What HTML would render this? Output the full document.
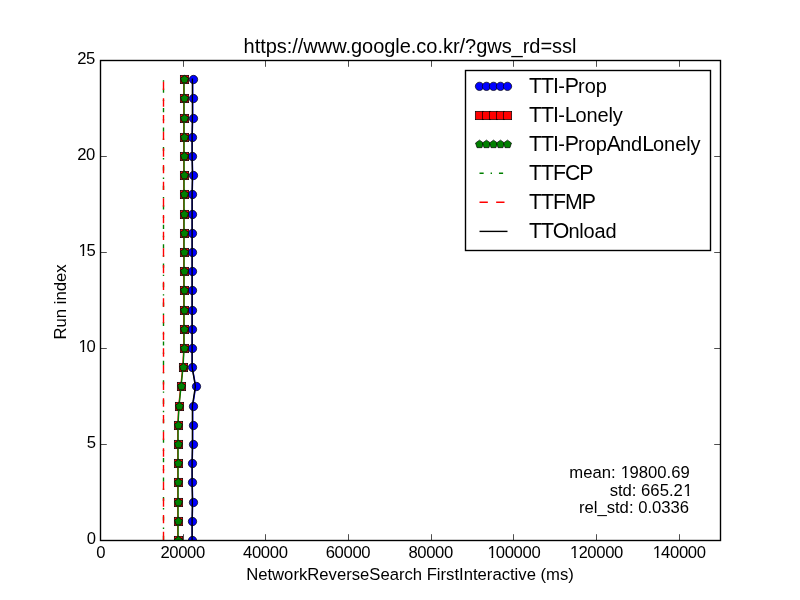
<!DOCTYPE html>
<html><head><meta charset="utf-8"><title>chart</title>
<style>html,body{margin:0;padding:0;background:#fff;overflow:hidden}svg{display:block}text{fill:#000}</style></head>
<body>
<svg width="800" height="600" viewBox="0 0 800 600">
<rect width="800" height="600" fill="#ffffff"/>
<defs><clipPath id="ax"><rect x="100" y="60" width="620" height="480"/></clipPath></defs>
<g clip-path="url(#ax)">
<path d="M192.20 540.00 L192.20 520.80 L192.75 501.60 L192.20 482.40 L192.20 463.20 L192.75 444.00 L192.75 424.80 L192.75 405.60 L195.75 386.40 L192.20 367.20 L192.20 348.00 L192.20 328.80 L192.20 309.60 L192.20 290.40 L192.20 271.20 L192.20 252.00 L192.20 232.80 L192.20 213.60 L192.20 194.40 L192.75 175.20 L192.20 156.00 L192.20 136.80 L192.75 117.60 L192.75 98.40 L192.75 79.20" fill="none" stroke="#0000ff" stroke-width="1.389" stroke-linejoin="round" stroke-linecap="square"/>
<circle cx="192.50" cy="540.50" r="4.167" fill="#0000ff" stroke="#000" stroke-width="0.694"/>
<circle cx="192.50" cy="521.50" r="4.167" fill="#0000ff" stroke="#000" stroke-width="0.694"/>
<circle cx="193.50" cy="502.50" r="4.167" fill="#0000ff" stroke="#000" stroke-width="0.694"/>
<circle cx="192.50" cy="482.50" r="4.167" fill="#0000ff" stroke="#000" stroke-width="0.694"/>
<circle cx="192.50" cy="463.50" r="4.167" fill="#0000ff" stroke="#000" stroke-width="0.694"/>
<circle cx="193.50" cy="444.50" r="4.167" fill="#0000ff" stroke="#000" stroke-width="0.694"/>
<circle cx="193.50" cy="425.50" r="4.167" fill="#0000ff" stroke="#000" stroke-width="0.694"/>
<circle cx="193.50" cy="406.50" r="4.167" fill="#0000ff" stroke="#000" stroke-width="0.694"/>
<circle cx="196.50" cy="386.50" r="4.167" fill="#0000ff" stroke="#000" stroke-width="0.694"/>
<circle cx="192.50" cy="367.50" r="4.167" fill="#0000ff" stroke="#000" stroke-width="0.694"/>
<circle cx="192.50" cy="348.50" r="4.167" fill="#0000ff" stroke="#000" stroke-width="0.694"/>
<circle cx="192.50" cy="329.50" r="4.167" fill="#0000ff" stroke="#000" stroke-width="0.694"/>
<circle cx="192.50" cy="310.50" r="4.167" fill="#0000ff" stroke="#000" stroke-width="0.694"/>
<circle cx="192.50" cy="290.50" r="4.167" fill="#0000ff" stroke="#000" stroke-width="0.694"/>
<circle cx="192.50" cy="271.50" r="4.167" fill="#0000ff" stroke="#000" stroke-width="0.694"/>
<circle cx="192.50" cy="252.50" r="4.167" fill="#0000ff" stroke="#000" stroke-width="0.694"/>
<circle cx="192.50" cy="233.50" r="4.167" fill="#0000ff" stroke="#000" stroke-width="0.694"/>
<circle cx="192.50" cy="214.50" r="4.167" fill="#0000ff" stroke="#000" stroke-width="0.694"/>
<circle cx="192.50" cy="194.50" r="4.167" fill="#0000ff" stroke="#000" stroke-width="0.694"/>
<circle cx="193.50" cy="175.50" r="4.167" fill="#0000ff" stroke="#000" stroke-width="0.694"/>
<circle cx="192.50" cy="156.50" r="4.167" fill="#0000ff" stroke="#000" stroke-width="0.694"/>
<circle cx="192.50" cy="137.50" r="4.167" fill="#0000ff" stroke="#000" stroke-width="0.694"/>
<circle cx="193.50" cy="118.50" r="4.167" fill="#0000ff" stroke="#000" stroke-width="0.694"/>
<circle cx="193.50" cy="98.50" r="4.167" fill="#0000ff" stroke="#000" stroke-width="0.694"/>
<circle cx="193.50" cy="79.50" r="4.167" fill="#0000ff" stroke="#000" stroke-width="0.694"/>
<path d="M177.80 540.00 L177.80 520.80 L177.80 501.60 L177.80 482.40 L177.80 463.20 L177.80 444.00 L177.80 424.80 L178.80 405.60 L180.80 386.40 L182.80 367.20 L183.80 348.00 L183.80 328.80 L183.80 309.60 L183.80 290.40 L183.80 271.20 L183.80 252.00 L183.80 232.80 L183.80 213.60 L183.80 194.40 L183.80 175.20 L183.80 156.00 L183.80 136.80 L183.80 117.60 L183.80 98.40 L183.80 79.20" fill="none" stroke="#ff0000" stroke-width="1.389" stroke-linejoin="round" stroke-linecap="square"/>
<rect x="174.33" y="536.33" width="8.333" height="8.333" fill="#ff0000" stroke="#000" stroke-width="0.694"/>
<rect x="174.33" y="517.33" width="8.333" height="8.333" fill="#ff0000" stroke="#000" stroke-width="0.694"/>
<rect x="174.33" y="498.33" width="8.333" height="8.333" fill="#ff0000" stroke="#000" stroke-width="0.694"/>
<rect x="174.33" y="478.33" width="8.333" height="8.333" fill="#ff0000" stroke="#000" stroke-width="0.694"/>
<rect x="174.33" y="459.33" width="8.333" height="8.333" fill="#ff0000" stroke="#000" stroke-width="0.694"/>
<rect x="174.33" y="440.33" width="8.333" height="8.333" fill="#ff0000" stroke="#000" stroke-width="0.694"/>
<rect x="174.33" y="421.33" width="8.333" height="8.333" fill="#ff0000" stroke="#000" stroke-width="0.694"/>
<rect x="175.33" y="402.33" width="8.333" height="8.333" fill="#ff0000" stroke="#000" stroke-width="0.694"/>
<rect x="177.33" y="382.33" width="8.333" height="8.333" fill="#ff0000" stroke="#000" stroke-width="0.694"/>
<rect x="179.33" y="363.33" width="8.333" height="8.333" fill="#ff0000" stroke="#000" stroke-width="0.694"/>
<rect x="180.33" y="344.33" width="8.333" height="8.333" fill="#ff0000" stroke="#000" stroke-width="0.694"/>
<rect x="180.33" y="325.33" width="8.333" height="8.333" fill="#ff0000" stroke="#000" stroke-width="0.694"/>
<rect x="180.33" y="306.33" width="8.333" height="8.333" fill="#ff0000" stroke="#000" stroke-width="0.694"/>
<rect x="180.33" y="286.33" width="8.333" height="8.333" fill="#ff0000" stroke="#000" stroke-width="0.694"/>
<rect x="180.33" y="267.33" width="8.333" height="8.333" fill="#ff0000" stroke="#000" stroke-width="0.694"/>
<rect x="180.33" y="248.33" width="8.333" height="8.333" fill="#ff0000" stroke="#000" stroke-width="0.694"/>
<rect x="180.33" y="229.33" width="8.333" height="8.333" fill="#ff0000" stroke="#000" stroke-width="0.694"/>
<rect x="180.33" y="210.33" width="8.333" height="8.333" fill="#ff0000" stroke="#000" stroke-width="0.694"/>
<rect x="180.33" y="190.33" width="8.333" height="8.333" fill="#ff0000" stroke="#000" stroke-width="0.694"/>
<rect x="180.33" y="171.33" width="8.333" height="8.333" fill="#ff0000" stroke="#000" stroke-width="0.694"/>
<rect x="180.33" y="152.33" width="8.333" height="8.333" fill="#ff0000" stroke="#000" stroke-width="0.694"/>
<rect x="180.33" y="133.33" width="8.333" height="8.333" fill="#ff0000" stroke="#000" stroke-width="0.694"/>
<rect x="180.33" y="114.33" width="8.333" height="8.333" fill="#ff0000" stroke="#000" stroke-width="0.694"/>
<rect x="180.33" y="94.33" width="8.333" height="8.333" fill="#ff0000" stroke="#000" stroke-width="0.694"/>
<rect x="180.33" y="75.33" width="8.333" height="8.333" fill="#ff0000" stroke="#000" stroke-width="0.694"/>
<path d="M178.05 540.00 L178.05 520.80 L178.05 501.60 L178.05 482.40 L178.05 463.20 L178.05 444.00 L178.05 424.80 L179.05 405.60 L181.05 386.40 L183.05 367.20 L184.05 348.00 L184.05 328.80 L184.05 309.60 L184.05 290.40 L184.05 271.20 L184.05 252.00 L184.05 232.80 L184.05 213.60 L184.05 194.40 L184.05 175.20 L184.05 156.00 L184.05 136.80 L184.05 117.60 L184.05 98.40 L184.05 79.20" fill="none" stroke="#008000" stroke-width="1.389" stroke-linejoin="round" stroke-linecap="square"/>
<polygon points="178.50,536.33 174.54,539.21 176.05,543.87 180.95,543.87 182.46,539.21" fill="#008000" stroke="#000" stroke-width="0.694"/>
<polygon points="178.50,517.33 174.54,520.21 176.05,524.87 180.95,524.87 182.46,520.21" fill="#008000" stroke="#000" stroke-width="0.694"/>
<polygon points="178.50,498.33 174.54,501.21 176.05,505.87 180.95,505.87 182.46,501.21" fill="#008000" stroke="#000" stroke-width="0.694"/>
<polygon points="178.50,478.33 174.54,481.21 176.05,485.87 180.95,485.87 182.46,481.21" fill="#008000" stroke="#000" stroke-width="0.694"/>
<polygon points="178.50,459.33 174.54,462.21 176.05,466.87 180.95,466.87 182.46,462.21" fill="#008000" stroke="#000" stroke-width="0.694"/>
<polygon points="178.50,440.33 174.54,443.21 176.05,447.87 180.95,447.87 182.46,443.21" fill="#008000" stroke="#000" stroke-width="0.694"/>
<polygon points="178.50,421.33 174.54,424.21 176.05,428.87 180.95,428.87 182.46,424.21" fill="#008000" stroke="#000" stroke-width="0.694"/>
<polygon points="179.50,402.33 175.54,405.21 177.05,409.87 181.95,409.87 183.46,405.21" fill="#008000" stroke="#000" stroke-width="0.694"/>
<polygon points="181.50,382.33 177.54,385.21 179.05,389.87 183.95,389.87 185.46,385.21" fill="#008000" stroke="#000" stroke-width="0.694"/>
<polygon points="183.50,363.33 179.54,366.21 181.05,370.87 185.95,370.87 187.46,366.21" fill="#008000" stroke="#000" stroke-width="0.694"/>
<polygon points="184.50,344.33 180.54,347.21 182.05,351.87 186.95,351.87 188.46,347.21" fill="#008000" stroke="#000" stroke-width="0.694"/>
<polygon points="184.50,325.33 180.54,328.21 182.05,332.87 186.95,332.87 188.46,328.21" fill="#008000" stroke="#000" stroke-width="0.694"/>
<polygon points="184.50,306.33 180.54,309.21 182.05,313.87 186.95,313.87 188.46,309.21" fill="#008000" stroke="#000" stroke-width="0.694"/>
<polygon points="184.50,286.33 180.54,289.21 182.05,293.87 186.95,293.87 188.46,289.21" fill="#008000" stroke="#000" stroke-width="0.694"/>
<polygon points="184.50,267.33 180.54,270.21 182.05,274.87 186.95,274.87 188.46,270.21" fill="#008000" stroke="#000" stroke-width="0.694"/>
<polygon points="184.50,248.33 180.54,251.21 182.05,255.87 186.95,255.87 188.46,251.21" fill="#008000" stroke="#000" stroke-width="0.694"/>
<polygon points="184.50,229.33 180.54,232.21 182.05,236.87 186.95,236.87 188.46,232.21" fill="#008000" stroke="#000" stroke-width="0.694"/>
<polygon points="184.50,210.33 180.54,213.21 182.05,217.87 186.95,217.87 188.46,213.21" fill="#008000" stroke="#000" stroke-width="0.694"/>
<polygon points="184.50,190.33 180.54,193.21 182.05,197.87 186.95,197.87 188.46,193.21" fill="#008000" stroke="#000" stroke-width="0.694"/>
<polygon points="184.50,171.33 180.54,174.21 182.05,178.87 186.95,178.87 188.46,174.21" fill="#008000" stroke="#000" stroke-width="0.694"/>
<polygon points="184.50,152.33 180.54,155.21 182.05,159.87 186.95,159.87 188.46,155.21" fill="#008000" stroke="#000" stroke-width="0.694"/>
<polygon points="184.50,133.33 180.54,136.21 182.05,140.87 186.95,140.87 188.46,136.21" fill="#008000" stroke="#000" stroke-width="0.694"/>
<polygon points="184.50,114.33 180.54,117.21 182.05,121.87 186.95,121.87 188.46,117.21" fill="#008000" stroke="#000" stroke-width="0.694"/>
<polygon points="184.50,94.33 180.54,97.21 182.05,101.87 186.95,101.87 188.46,97.21" fill="#008000" stroke="#000" stroke-width="0.694"/>
<polygon points="184.50,75.33 180.54,78.21 182.05,82.87 186.95,82.87 188.46,78.21" fill="#008000" stroke="#000" stroke-width="0.694"/>
<path d="M163.50 540.00 L163.50 79.20" fill="none" stroke="#008000" stroke-width="1.389" stroke-dasharray="4.167 6.944 1.389 6.944"/>
<path d="M163.50 540.00 L163.50 79.20" fill="none" stroke="#ff0000" stroke-width="1.389" stroke-dasharray="8.333 8.333"/>
<path d="M192.10 540.00 L192.10 520.80 L192.40 501.60 L192.10 482.40 L192.10 463.20 L192.40 444.00 L192.40 424.80 L192.40 405.60 L195.40 386.40 L192.10 367.20 L192.10 348.00 L192.10 328.80 L192.10 309.60 L192.10 290.40 L192.10 271.20 L192.10 252.00 L192.10 232.80 L192.10 213.60 L192.10 194.40 L192.40 175.20 L192.10 156.00 L192.10 136.80 L192.40 117.60 L192.40 98.40 L192.40 79.20" fill="none" stroke="#000" stroke-width="1.389" stroke-linejoin="round" stroke-linecap="square"/>
</g>
<path d="M100.50 540.50 V534.20 M100.50 60.50 V66.80 M183.50 540.50 V534.20 M183.50 60.50 V66.80 M265.50 540.50 V534.20 M265.50 60.50 V66.80 M348.50 540.50 V534.20 M348.50 60.50 V66.80 M431.50 540.50 V534.20 M431.50 60.50 V66.80 M513.50 540.50 V534.20 M513.50 60.50 V66.80 M596.50 540.50 V534.20 M596.50 60.50 V66.80 M679.50 540.50 V534.20 M679.50 60.50 V66.80 M100.50 540.50 H106.80 M720.50 540.50 H714.20 M100.50 444.50 H106.80 M720.50 444.50 H714.20 M100.50 348.50 H106.80 M720.50 348.50 H714.20 M100.50 252.50 H106.80 M720.50 252.50 H714.20 M100.50 156.50 H106.80 M720.50 156.50 H714.20 M100.50 60.50 H106.80 M720.50 60.50 H714.20" fill="none" stroke="#000" stroke-width="0.694"/>
<rect x="100.5" y="60.5" width="620" height="480" fill="none" stroke="#000" stroke-width="1.389"/>
<text x="100.70" y="557.76" font-size="16.67" text-anchor="middle" letter-spacing="-0.35" font-family="Liberation Sans, Arial, sans-serif">0</text>
<text x="182.67" y="557.76" font-size="16.67" text-anchor="middle" letter-spacing="-0.35" font-family="Liberation Sans, Arial, sans-serif">20000</text>
<text x="265.33" y="557.76" font-size="16.67" text-anchor="middle" letter-spacing="-0.35" font-family="Liberation Sans, Arial, sans-serif">40000</text>
<text x="348.00" y="557.76" font-size="16.67" text-anchor="middle" letter-spacing="-0.35" font-family="Liberation Sans, Arial, sans-serif">60000</text>
<text x="430.67" y="557.76" font-size="16.67" text-anchor="middle" letter-spacing="-0.35" font-family="Liberation Sans, Arial, sans-serif">80000</text>
<text x="513.33" y="557.76" font-size="16.67" text-anchor="middle" letter-spacing="-0.35" font-family="Liberation Sans, Arial, sans-serif"><tspan dx="0.55">1</tspan><tspan dx="-0.55">00000</tspan></text>
<text x="596.00" y="557.76" font-size="16.67" text-anchor="middle" letter-spacing="-0.35" font-family="Liberation Sans, Arial, sans-serif"><tspan dx="0.55">1</tspan><tspan dx="-0.55">20000</tspan></text>
<text x="678.67" y="557.76" font-size="16.67" text-anchor="middle" letter-spacing="-0.35" font-family="Liberation Sans, Arial, sans-serif"><tspan dx="0.55">1</tspan><tspan dx="-0.55">40000</tspan></text>
<text x="96.14" y="544.00" font-size="16.67" text-anchor="end" letter-spacing="0" font-family="Liberation Sans, Arial, sans-serif">0</text>
<text x="96.14" y="448.00" font-size="16.67" text-anchor="end" letter-spacing="0" font-family="Liberation Sans, Arial, sans-serif">5</text>
<text x="94.64" y="352.00" font-size="16.67" text-anchor="end" letter-spacing="-0.6" font-family="Liberation Sans, Arial, sans-serif"><tspan dx="0.55">1</tspan><tspan dx="-0.55">0</tspan></text>
<text x="94.64" y="256.00" font-size="16.67" text-anchor="end" letter-spacing="-0.6" font-family="Liberation Sans, Arial, sans-serif"><tspan dx="0.55">1</tspan><tspan dx="-0.55">5</tspan></text>
<text x="94.64" y="160.00" font-size="16.67" text-anchor="end" letter-spacing="-0.6" font-family="Liberation Sans, Arial, sans-serif">20</text>
<text x="94.64" y="64.00" font-size="16.67" text-anchor="end" letter-spacing="-0.6" font-family="Liberation Sans, Arial, sans-serif">25</text>
<text x="410" y="53" font-size="20" text-anchor="middle" letter-spacing="-0.035" font-family="Liberation Sans, Arial, sans-serif">https://www.google.co.kr/?gws_rd=ssl</text>
<text x="410" y="579.7" font-size="16.67" text-anchor="middle" font-family="Liberation Sans, Arial, sans-serif">NetworkReverseSearch FirstInteractive (ms)</text>
<text transform="translate(66,302) rotate(-90)" font-size="16.67" text-anchor="middle" font-family="Liberation Sans, Arial, sans-serif">Run index</text>
<text x="689.7" y="478" font-size="16.67" text-anchor="end" font-family="Liberation Sans, Arial, sans-serif">mean: <tspan dx="0.55">1</tspan><tspan dx="-0.55">9800.69</tspan></text>
<text x="692.6" y="496" font-size="16.67" text-anchor="end" font-family="Liberation Sans, Arial, sans-serif">std: 665.2<tspan dx="0.55">1</tspan></text>
<text x="689.1" y="512.7" font-size="16.67" text-anchor="end" font-family="Liberation Sans, Arial, sans-serif">rel_std: 0.0336</text>
<rect x="465.5" y="70.5" width="245" height="180" fill="#fff" stroke="#000" stroke-width="1.389"/>
<path d="M479.50 86.35 H507.50" stroke="#0000ff" stroke-width="1.389"/>
<circle cx="479.50" cy="86.35" r="4.167" fill="#0000ff" stroke="#000" stroke-width="0.694"/>
<circle cx="486.50" cy="86.35" r="4.167" fill="#0000ff" stroke="#000" stroke-width="0.694"/>
<circle cx="493.50" cy="86.35" r="4.167" fill="#0000ff" stroke="#000" stroke-width="0.694"/>
<circle cx="500.50" cy="86.35" r="4.167" fill="#0000ff" stroke="#000" stroke-width="0.694"/>
<circle cx="507.50" cy="86.35" r="4.167" fill="#0000ff" stroke="#000" stroke-width="0.694"/>
<path d="M479.50 115.50 H507.50" stroke="#ff0000" stroke-width="1.389"/>
<rect x="475.33" y="111.33" width="8.333" height="8.333" fill="#ff0000" stroke="#000" stroke-width="0.694"/>
<rect x="482.33" y="111.33" width="8.333" height="8.333" fill="#ff0000" stroke="#000" stroke-width="0.694"/>
<rect x="489.33" y="111.33" width="8.333" height="8.333" fill="#ff0000" stroke="#000" stroke-width="0.694"/>
<rect x="496.33" y="111.33" width="8.333" height="8.333" fill="#ff0000" stroke="#000" stroke-width="0.694"/>
<rect x="503.33" y="111.33" width="8.333" height="8.333" fill="#ff0000" stroke="#000" stroke-width="0.694"/>
<path d="M479.50 144.30 H507.50" stroke="#008000" stroke-width="1.389"/>
<polygon points="479.50,140.13 475.54,143.01 477.05,147.67 481.95,147.67 483.46,143.01" fill="#008000" stroke="#000" stroke-width="0.694"/>
<polygon points="486.50,140.13 482.54,143.01 484.05,147.67 488.95,147.67 490.46,143.01" fill="#008000" stroke="#000" stroke-width="0.694"/>
<polygon points="493.50,140.13 489.54,143.01 491.05,147.67 495.95,147.67 497.46,143.01" fill="#008000" stroke="#000" stroke-width="0.694"/>
<polygon points="500.50,140.13 496.54,143.01 498.05,147.67 502.95,147.67 504.46,143.01" fill="#008000" stroke="#000" stroke-width="0.694"/>
<polygon points="507.50,140.13 503.54,143.01 505.05,147.67 509.95,147.67 511.46,143.01" fill="#008000" stroke="#000" stroke-width="0.694"/>
<path d="M479.50 173.30 H507.50" stroke="#008000" stroke-width="1.389" stroke-dasharray="4.167 6.944 1.389 6.944"/>
<path d="M479.50 202.20 H507.50" stroke="#ff0000" stroke-width="1.389" stroke-dasharray="8.333 8.333"/>
<path d="M479.50 231.40 H507.50" stroke="#000" stroke-width="1.389"/>
<text x="528.9" y="93" font-size="20" letter-spacing="-0.05" font-family="Liberation Sans, Arial, sans-serif"><tspan font-size="21.3" letter-spacing="-0.9">TTI</tspan>-<tspan font-size="21.3" letter-spacing="-0.9">P</tspan>rop</text>
<text x="528.9" y="122" font-size="20" letter-spacing="-0.17" font-family="Liberation Sans, Arial, sans-serif"><tspan font-size="21.3" letter-spacing="-0.9">TTI</tspan>-<tspan font-size="21.3" letter-spacing="-0.9">L</tspan>onely</text>
<text x="528.9" y="151" font-size="20" letter-spacing="-0.08" font-family="Liberation Sans, Arial, sans-serif"><tspan font-size="21.3" letter-spacing="-0.9">TTI</tspan>-<tspan font-size="21.3" letter-spacing="-0.9">P</tspan>rop<tspan font-size="21.3" letter-spacing="-0.9">A</tspan>nd<tspan font-size="21.3" letter-spacing="-0.9">L</tspan>onely</text>
<text x="528.9" y="180" font-size="20" letter-spacing="-0.17" font-family="Liberation Sans, Arial, sans-serif"><tspan font-size="21.3" letter-spacing="-1">TTFCP</tspan></text>
<text x="528.9" y="209" font-size="20" letter-spacing="-0.17" font-family="Liberation Sans, Arial, sans-serif"><tspan font-size="21.3" letter-spacing="-0.95">TTFMP</tspan></text>
<text x="528.9" y="238" font-size="20" letter-spacing="-0.17" font-family="Liberation Sans, Arial, sans-serif"><tspan font-size="21.3" letter-spacing="-0.9">TTO</tspan>nload</text>
<rect x="487.38" y="555.75" width="4.10" height="2.70" fill="#fff"/><rect x="493.19" y="555.75" width="3.97" height="2.70" fill="#fff"/><rect x="570.05" y="555.75" width="4.10" height="2.70" fill="#fff"/><rect x="575.86" y="555.75" width="3.97" height="2.70" fill="#fff"/><rect x="652.72" y="555.75" width="4.10" height="2.70" fill="#fff"/><rect x="658.53" y="555.75" width="3.97" height="2.70" fill="#fff"/><rect x="78.37" y="349.75" width="4.10" height="2.70" fill="#fff"/><rect x="84.18" y="349.75" width="3.97" height="2.70" fill="#fff"/><rect x="78.37" y="253.75" width="4.10" height="2.70" fill="#fff"/><rect x="84.18" y="253.75" width="3.97" height="2.70" fill="#fff"/><rect x="620.74" y="475.75" width="4.10" height="2.70" fill="#fff"/><rect x="626.55" y="475.75" width="3.97" height="2.70" fill="#fff"/><rect x="683.30" y="493.75" width="4.10" height="2.70" fill="#fff"/><rect x="689.12" y="493.75" width="3.97" height="2.70" fill="#fff"/>
</svg>
</body></html>
